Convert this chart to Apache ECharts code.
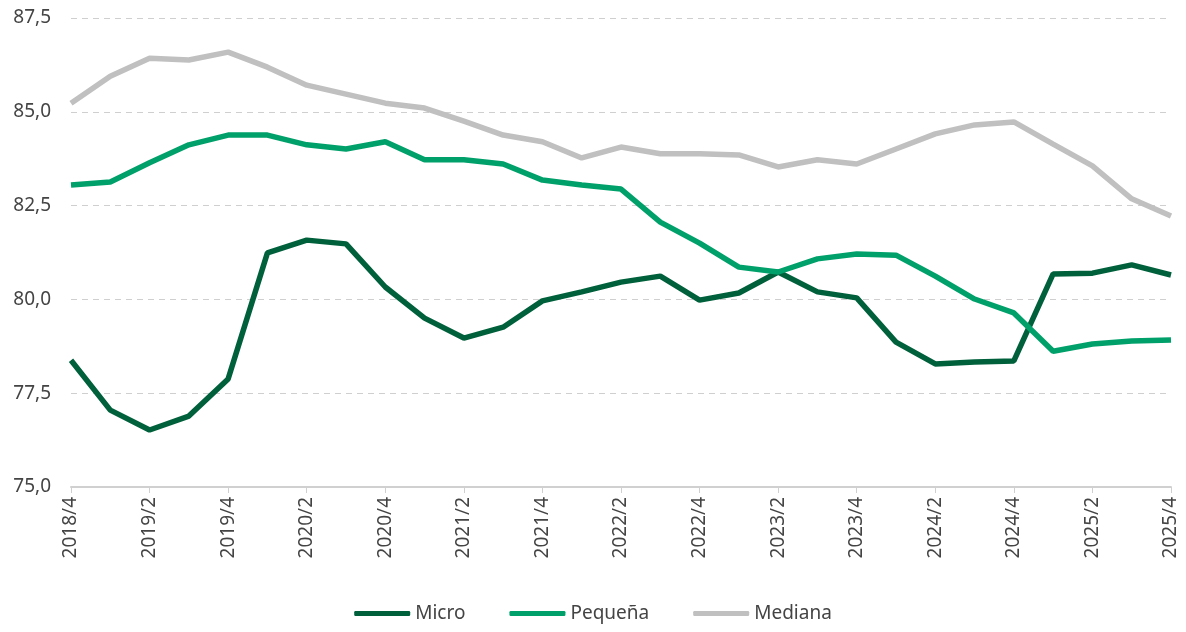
<!DOCTYPE html>
<html>
<head>
<meta charset="utf-8">
<title>Micro / Pequeña / Mediana</title>
<script src="https://cdn.jsdelivr.net/npm/echarts@6/dist/echarts.min.js"></script>
<style>
html,body{margin:0;padding:0;background:#fff;}
#main{width:1186px;height:632px;}
</style>
</head>
<body>
<div id="main"></div>
<script>
// trimestres 2018/4 .. 2025/4
var quarters = ['2018/4',
  '2019/1','2019/2','2019/3','2019/4',
  '2020/1','2020/2','2020/3','2020/4',
  '2021/1','2021/2','2021/3','2021/4',
  '2022/1','2022/2','2022/3','2022/4',
  '2023/1','2023/2','2023/3','2023/4',
  '2024/1','2024/2','2024/3','2024/4',
  '2025/1','2025/2','2025/3','2025/4'];

var micro = [78.38, 77.05, 76.52, 76.89, 77.88, 81.24, 81.58, 81.48, 80.33, 79.50,
  78.97, 79.26, 79.96, 80.20, 80.46, 80.62, 79.98, 80.17, 80.73, 80.20,
  80.04, 78.86, 78.28, 78.33, 78.36, 80.68, 80.70, 80.92, 80.65];

var pequena = [83.05, 83.13, 83.64, 84.12, 84.38, 84.38, 84.12, 84.01, 84.20, 83.72,
  83.72, 83.61, 83.18, 83.05, 82.94, 82.06, 81.50, 80.86, 80.73, 81.08,
  81.21, 81.18, 80.62, 80.01, 79.64, 78.62, 78.81, 78.89, 78.92];

var mediana = [85.23, 85.95, 86.43, 86.38, 86.59, 86.19, 85.71, 85.47, 85.23, 85.10,
  84.75, 84.38, 84.20, 83.77, 84.06, 83.88, 83.88, 83.85, 83.53, 83.72,
  83.61, 84.01, 84.41, 84.65, 84.73, 84.14, 83.56, 82.68, 82.22];

var fontName = '"Noto Sans", "DejaVu Sans", sans-serif';

function serie(name, data, color) {
  return {
    name: name,
    type: 'line',
    data: data,
    symbol: 'none',
    lineStyle: { width: 5.5, color: color },
    itemStyle: { color: color }
  };
}

var myChart = echarts.init(document.getElementById('main'));
myChart.setOption({
  animation: false,
  grid: { left: 71, right: 15, top: 18, bottom: 145 },
  legend: {
    bottom: 4,
    left: 'center',
    itemWidth: 56,
    itemHeight: 5,
    itemGap: 44,
    icon: 'roundRect',
    textStyle: { fontFamily: fontName, fontSize: 19, color: '#444' },
    data: ['Micro', 'Pequeña', 'Mediana']
  },
  xAxis: {
    type: 'category',
    data: quarters,
    boundaryGap: false,
    axisLine: { lineStyle: { color: '#d0d0d0', width: 2 } },
    axisTick: { interval: 1, length: 6, lineStyle: { color: '#d0d0d0', width: 1 } },
    axisLabel: {
      interval: 1,
      rotate: 90,
      margin: 10,
      fontFamily: fontName,
      fontSize: 19,
      color: '#444'
    }
  },
  yAxis: {
    type: 'value',
    min: 75,
    max: 87.5,
    interval: 2.5,
    axisLine: { show: false },
    axisTick: { show: false },
    splitLine: { lineStyle: { color: '#cfcfcf', type: [6, 5], width: 1 } },
    axisLabel: {
      margin: 20,
      fontFamily: fontName,
      fontSize: 19,
      color: '#444',
      formatter: function (v) { return v.toFixed(1).replace('.', ','); }
    }
  },
  series: [
    serie('Micro', micro, '#00603c'),
    serie('Pequeña', pequena, '#00a06a'),
    serie('Mediana', mediana, '#c0c0c0')
  ]
});
</script>
</body>
</html>
